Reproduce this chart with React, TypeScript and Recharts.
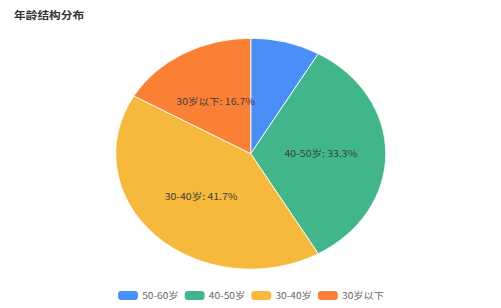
import React from 'react';
import { PieChart, Pie, Cell, Legend } from 'recharts';

// 年龄结构分布 (headcount per age group)
const ageGroups = ['50-60岁', '40-50岁', '30-40岁', '30岁以下'];
const headcount = [1, 4, 5, 2];
const sliceColors = ['#4A8EF8', '#42B68B', '#F6B93B', '#FA8036'];

const chartData = ageGroups.map((name, i) => ({ name, value: headcount[i] }));

// the reference is horizontally stretched, so the whole chart is drawn narrower and scaled
const STRETCH = 1.169;
const FONT = '"Noto Sans CJK SC", "Noto Sans", sans-serif';
const RAD = Math.PI / 180;

const renderLabel = ({ cx, cy, midAngle, outerRadius, name, percent }: any) => {
  if (percent < 0.1) return null;
  const r = outerRadius * 0.52;
  const x = cx + r * Math.cos(-midAngle * RAD);
  const y = cy + r * Math.sin(-midAngle * RAD);
  return (
    <text
      x={x}
      y={y}
      fill="#3d3d3d"
      fontSize={9}
      fontFamily={FONT}
      textAnchor="middle"
      dominantBaseline="central"
    >
      {`${name}: ${(percent * 100).toFixed(1)}%`}
    </text>
  );
};

const CustomLegend = () => (
  <div
    style={{
      display: 'flex',
      justifyContent: 'center',
      gap: 5,
      fontFamily: FONT,
      fontSize: 8.7,
      color: '#666',
    }}
  >
    {ageGroups.map((name, i) => (
      <div key={name} style={{ display: 'flex', alignItems: 'center' }}>
        <span
          style={{
            display: 'inline-block',
            width: 17,
            height: 9,
            borderRadius: 3,
            background: sliceColors[i],
            marginRight: 4,
          }}
        />
        <span>{name}</span>
      </div>
    ))}
  </div>
);

const App: React.FC = () => {
  const width = Math.round(501 / STRETCH);
  return (
    <div style={{ position: 'absolute', left: 0, top: 0, width: 501, height: 308, background: '#fff', overflow: 'hidden' }}>
      <div
        style={{
          position: 'relative',
          width,
          height: 308,
          transform: `scaleX(${STRETCH})`,
          transformOrigin: '0 0',
        }}
      >
        <div
          style={{
            position: 'absolute',
            left: 12,
            top: 7,
            fontFamily: FONT,
            fontSize: 10,
            fontWeight: 'bold',
            color: '#333',
          }}
        >
          年龄结构分布
        </div>
        <PieChart width={width} height={308} margin={{ top: 0, right: 0, bottom: 0, left: 0 }}>
          <Pie
            data={chartData}
            dataKey="value"
            nameKey="name"
            cx={214.5}
            cy={153.7}
            outerRadius={115.5}
            startAngle={90}
            endAngle={-270}
            stroke="#fff"
            strokeWidth={0.8}
            label={renderLabel}
            labelLine={false}
            isAnimationActive={false}
          >
            {chartData.map((d, i) => (
              <Cell key={d.name} fill={sliceColors[i]} />
            ))}
          </Pie>
          <Legend
            verticalAlign="bottom"
            align="center"
            wrapperStyle={{ bottom: 6 }}
            content={() => <CustomLegend />}
          />
        </PieChart>
      </div>
    </div>
  );
};

export default App;
